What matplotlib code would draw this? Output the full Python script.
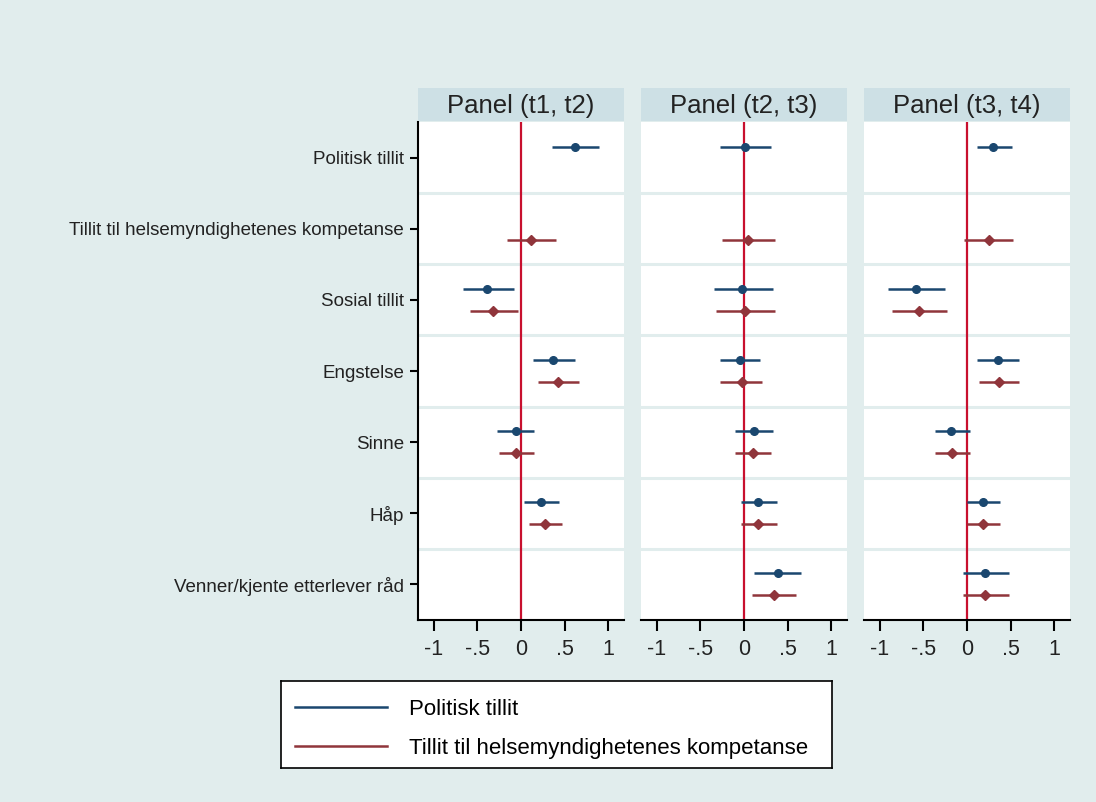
import numpy as np
import matplotlib
matplotlib.use('Agg')
import matplotlib.pyplot as plt
from matplotlib.lines import Line2D

plt.rcParams['font.family'] = ['Liberation Sans', 'DejaVu Sans']

# kategorier (ovenfra og ned)
kategorier = ['Politisk tillit', 'Tillit til helsemyndighetenes kompetanse',
              'Sosial tillit', 'Engstelse', 'Sinne', 'Håp',
              'Venner/kjente etterlever råd']
paneler = ['Panel (t1, t2)', 'Panel (t2, t3)', 'Panel (t3, t4)']
serier = ['Politisk tillit', 'Tillit til helsemyndighetenes kompetanse']
nan = np.nan

# estimat, nedre og øvre grense -- politisk tillit (blå)
pol_est = [[0.62, nan, -0.39, 0.37, -0.06, 0.23, nan],
           [0.01, nan, -0.02, -0.05, 0.11, 0.16, 0.39],
           [0.30, nan, -0.59, 0.35, -0.18, 0.18, 0.21]]
pol_lo = [[0.36, nan, -0.66, 0.14, -0.28, 0.04, nan],
          [-0.28, nan, -0.34, -0.27, -0.10, -0.03, 0.11],
          [0.11, nan, -0.91, 0.11, -0.37, 0.00, -0.05]]
pol_hi = [[0.89, nan, -0.08, 0.62, 0.15, 0.43, nan],
          [0.31, nan, 0.33, 0.18, 0.33, 0.38, 0.65],
          [0.51, nan, -0.25, 0.60, 0.03, 0.38, 0.48]]

# tillit til helsemyndighetene (rød)
hel_est = [[nan, 0.115, -0.32, 0.42, -0.06, 0.28, nan],
           [nan, 0.05, 0.01, -0.02, 0.10, 0.16, 0.34],
           [nan, 0.25, -0.55, 0.37, -0.17, 0.18, 0.21]]
hel_lo = [[nan, -0.16, -0.59, 0.19, -0.25, 0.09, nan],
          [nan, -0.25, -0.32, -0.27, -0.10, -0.03, 0.09],
          [nan, -0.03, -0.86, 0.14, -0.37, 0.00, -0.05]]
hel_hi = [[nan, 0.40, -0.04, 0.67, 0.15, 0.47, nan],
          [nan, 0.36, 0.36, 0.21, 0.31, 0.38, 0.60],
          [nan, 0.53, -0.23, 0.60, 0.03, 0.38, 0.48]]

xticks = [-1, -0.5, 0, 0.5, 1]
xticklabels = ['-1', '-.5', '0', '.5', '1']

bg = '#e1eded'
strip = '#cde0e5'
blaa = '#1a476f'
roed = '#90353b'
nullinje = '#c8102e'
tekst = '#222222'

fig = plt.figure(figsize=(10.96, 8.02), dpi=100, facecolor=bg)

lefts = [418, 641, 864]
W, H = 1096.0, 802.0
pw = 206
y = np.arange(len(kategorier))
off = 0.155

for p in range(3):
    ax = fig.add_axes([lefts[p] / W, 1 - 620 / H, pw / W, 498 / H])
    ax.set_facecolor('white')
    ax.set_xlim(-1.18, 1.18)
    ax.set_ylim(len(kategorier) - 0.5, -0.5)
    for b in np.arange(0.5, len(kategorier) - 0.5, 1):
        ax.axhline(b, color=bg, lw=2.2, zorder=1)
    ax.axvline(0, color=nullinje, lw=1.6, zorder=2)

    e, lo, hi = np.array(pol_est[p]), np.array(pol_lo[p]), np.array(pol_hi[p])
    ax.hlines(y - off, lo, hi, color=blaa, lw=1.8, zorder=3)
    ax.plot(e, y - off, 'o', color=blaa, ms=5.5, zorder=4)
    e, lo, hi = np.array(hel_est[p]), np.array(hel_lo[p]), np.array(hel_hi[p])
    ax.hlines(y + off, lo, hi, color=roed, lw=1.8, zorder=3)
    ax.plot(e, y + off, 'D', color=roed, ms=5, zorder=4)

    ax.set_xticks(xticks)
    ax.set_xticklabels(xticklabels, fontsize=15.5, color=tekst)
    ax.tick_params(axis='x', direction='out', length=8, width=1.5, pad=6)
    for s in ['top', 'right']:
        ax.spines[s].set_visible(False)
    ax.spines['bottom'].set_linewidth(1.5)
    if p == 0:
        ax.set_yticks(y)
        ax.set_yticklabels(kategorier, fontsize=13.5, color=tekst)
        ax.tick_params(axis='y', direction='out', length=6, width=1.5, pad=4)
        ax.spines['left'].set_linewidth(1.5)
    else:
        ax.set_yticks([])
        ax.spines['left'].set_visible(False)

    # overskrift-stripe
    sax = fig.add_axes([lefts[p] / W, 1 - 121 / H, pw / W, 33 / H])
    sax.set_facecolor(strip)
    sax.set_xticks([])
    sax.set_yticks([])
    for s in sax.spines.values():
        s.set_visible(False)
    sax.text(0.5, 0.45, paneler[p], ha='center', va='center', fontsize=18.5,
             color=tekst, transform=sax.transAxes)

# forklaring
lax = fig.add_axes([281 / W, 1 - 768 / H, 551 / W, 87 / H])
lax.set_facecolor('white')
lax.set_xticks([])
lax.set_yticks([])
for s in lax.spines.values():
    s.set_linewidth(1.2)
handles = [Line2D([], [], color=blaa, lw=1.8), Line2D([], [], color=roed, lw=1.8)]
lax.legend(handles, serier, loc='center left', bbox_to_anchor=(0, 0.45),
           frameon=False, handlelength=4.1, handletextpad=1.0,
           labelspacing=0.82, borderaxespad=0.25, prop={'size': 16})

fig.savefig('out.png', dpi=100, facecolor=bg)
